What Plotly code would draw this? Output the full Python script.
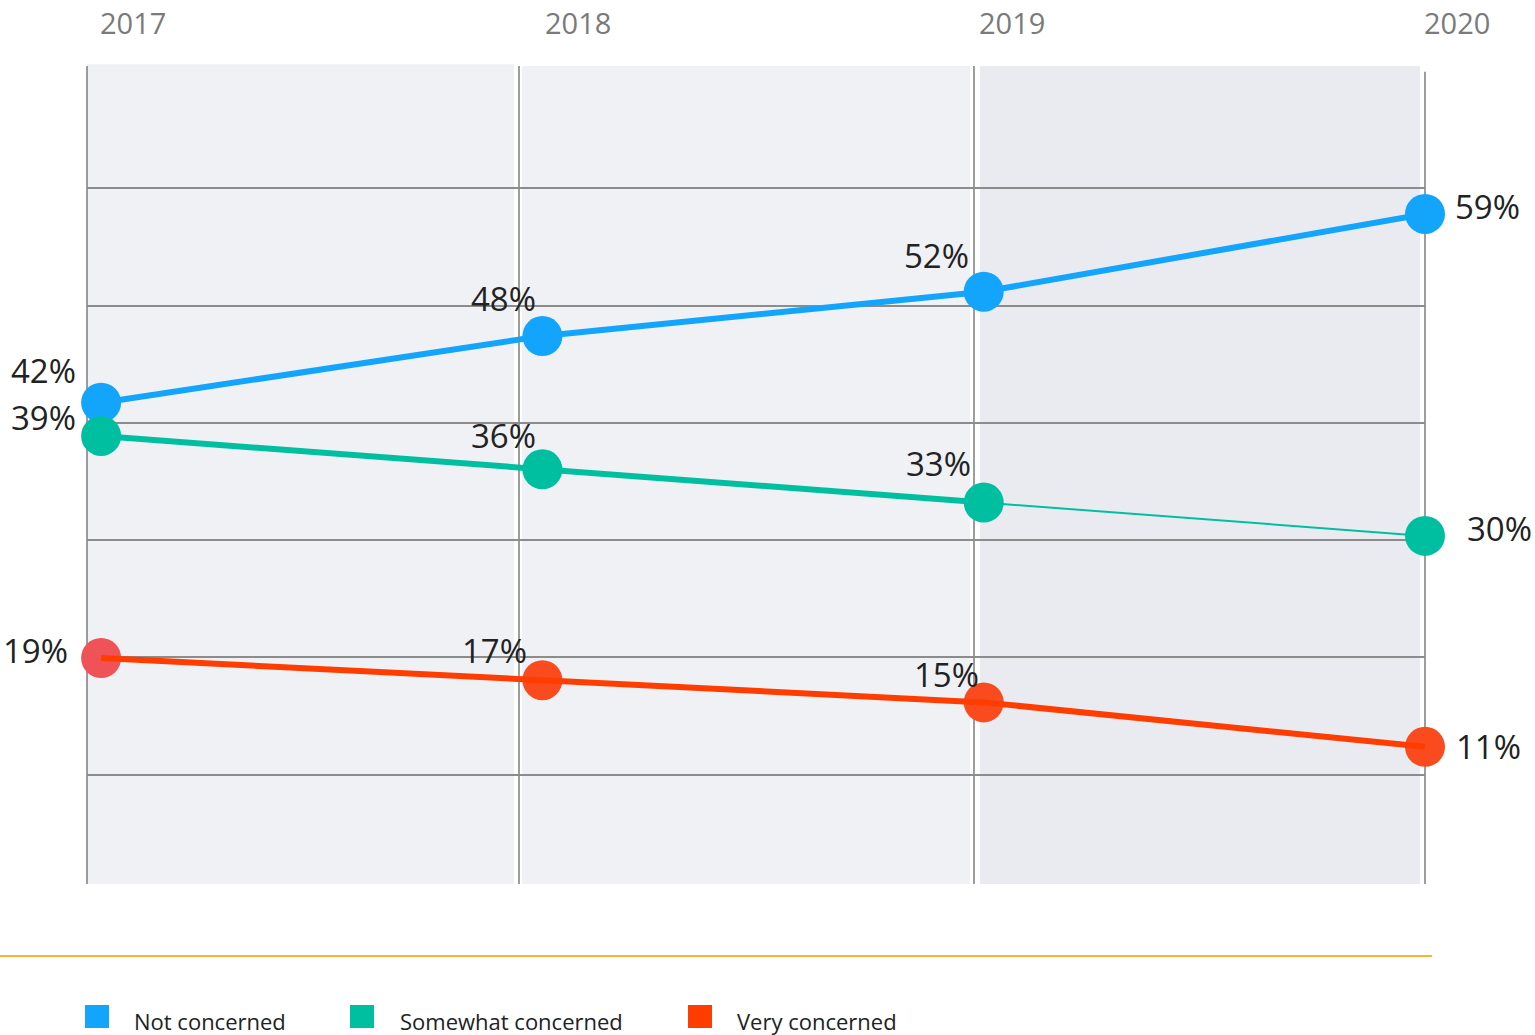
import plotly.graph_objects as go

# --- data ---------------------------------------------------------------
years = [2017, 2018, 2019, 2020]
not_concerned = [42, 48, 52, 59]
somewhat_concerned = [39, 36, 33, 30]
very_concerned = [19, 17, 15, 11]
series_names = ["Not concerned", "Somewhat concerned", "Very concerned"]

# --- style --------------------------------------------------------------
BLUE = "#13a5fc"
GREEN = "#00bfa1"
RED_LINE = "#ff3d00"
RED_MARK = "#fa4b1f"
RED_FIRST = "#f05357"
FONT = "Open Sans"

# label placement relative to each point: (dx px, dy px up, xanchor)
off_blue = [(-23, 32, "right"), (-39, 38, "center"), (-47, 36, "center"), (28, 7, "left")]
off_green = [(-23, 18, "right"), (-39, 34, "center"), (-45, 39, "center"), (40, 7, "left")]
off_red = [(-31, 7, "right"), (-48, 30, "center"), (-37, 28, "center"), (29, 0, "left")]

fig = go.Figure()

MS = 40  # marker diameter

def add_markers(vals, marker_colors, name):
    fig.add_trace(go.Scatter(
        x=years, y=vals, mode="markers", name=name, showlegend=False,
        marker=dict(size=MS, color=marker_colors, line=dict(width=0)),
        cliponaxis=False, hoverinfo="x+y"))

# blue: line under markers
fig.add_trace(go.Scatter(x=years, y=not_concerned, mode="lines",
                         line=dict(color=BLUE, width=6), showlegend=False,
                         cliponaxis=False, hoverinfo="skip"))
add_markers(not_concerned, BLUE, series_names[0])

# green: thick for first three years, thin last segment
fig.add_trace(go.Scatter(x=years[:3], y=somewhat_concerned[:3], mode="lines",
                         line=dict(color=GREEN, width=6), showlegend=False,
                         cliponaxis=False, hoverinfo="skip"))
fig.add_trace(go.Scatter(x=years[2:], y=somewhat_concerned[2:], mode="lines",
                         line=dict(color=GREEN, width=2), showlegend=False,
                         cliponaxis=False, hoverinfo="skip"))
add_markers(somewhat_concerned, GREEN, series_names[1])

# red: markers first, line drawn on top
add_markers(very_concerned, [RED_FIRST, RED_MARK, RED_MARK, RED_MARK],
            series_names[2])
fig.add_trace(go.Scatter(x=years, y=very_concerned, mode="lines",
                         line=dict(color=RED_LINE, width=6), showlegend=False,
                         cliponaxis=False, hoverinfo="skip"))

# value labels
annotations = []
for vals, offs in [(not_concerned, off_blue), (somewhat_concerned, off_green),
                   (very_concerned, off_red)]:
    for yr, v, (dx, dy, anc) in zip(years, vals, offs):
        annotations.append(dict(
            x=yr, y=v, xref="x", yref="y", text=f"{v}%", showarrow=False,
            xshift=dx, yshift=dy, xanchor=anc, yanchor="middle",
            font=dict(family=FONT, size=33, color="#222222")))

# year labels across the top
year_shift = [32, 36, 28, 32]
for yr, xs in zip(years, year_shift):
    annotations.append(dict(
        x=yr, y=1, xref="x", yref="paper", text=str(yr), showarrow=False,
        xshift=xs, yshift=44, xanchor="center", yanchor="middle",
        font=dict(family=FONT, size=29, color="#7a7a7a")))

# background panels, separators and footer rule
PW = 1338.0  # plot width px
PH = 818.0   # plot height px
def px(xpix):
    return (xpix - 87) / PW
def py(ypix):
    return (884 - ypix) / PH

shapes = [
    dict(type="rect", xref="paper", yref="paper", x0=px(87), x1=px(514),
         y0=0, y1=1.002, fillcolor="#f0f1f5", line=dict(width=0), layer="below"),
    dict(type="rect", xref="paper", yref="paper", x0=px(522), x1=px(970),
         y0=0, y1=1, fillcolor="#f0f1f5", line=dict(width=0), layer="below"),
    dict(type="rect", xref="paper", yref="paper", x0=px(980), x1=px(1420),
         y0=0, y1=1, fillcolor="#eaebf0", line=dict(width=0), layer="below"),
]
for xp, top in [(87, 1.0), (519, 1.0), (974, 1.0), (1425, 0.993)]:
    shapes.append(dict(type="line", xref="paper", yref="paper",
                       x0=px(xp), x1=px(xp), y0=0, y1=top,
                       line=dict(color="#7d7d7d", width=1.5), layer="below"))
shapes.append(dict(type="line", xref="paper", yref="paper",
                   x0=px(0), x1=px(1432), y0=py(956), y1=py(956),
                   line=dict(color="#f6b632", width=2)))

# legend: coloured squares with labels
legend_items = [(series_names[0], BLUE, 85, 132),
                (series_names[1], GREEN, 350, 398),
                (series_names[2], RED_LINE, 688, 735)]
for name, color, sx, tx in legend_items:
    shapes.append(dict(type="rect", xref="paper", yref="paper",
                       x0=px(sx), x1=px(sx + 24), y0=py(1028), y1=py(1005),
                       fillcolor=color, line=dict(width=0)))
    annotations.append(dict(
        x=px(tx), y=py(1021), xref="paper", yref="paper", text=name,
        showarrow=False, xanchor="left", yanchor="middle",
        font=dict(family=FONT, size=22, color="#222222")))

fig.update_layout(
    width=1535, height=1035,
    margin=dict(l=87, r=110, t=66, b=151),
    paper_bgcolor="white", plot_bgcolor="rgba(0,0,0,0)",
    showlegend=False,
    xaxis=dict(range=[2016.968, 2020.0], visible=False, fixedrange=True),
    yaxis=dict(range=[-1.36, 72.33], showticklabels=False, zeroline=False,
               showline=False, ticks="",
               tickvals=[8.46, 19.09, 29.63, 40.17, 50.71, 61.34],
               showgrid=True, gridcolor="#8c8c8c", gridwidth=1.5,
               fixedrange=True),
    shapes=shapes, annotations=annotations,
)

fig.write_html("out.html")
